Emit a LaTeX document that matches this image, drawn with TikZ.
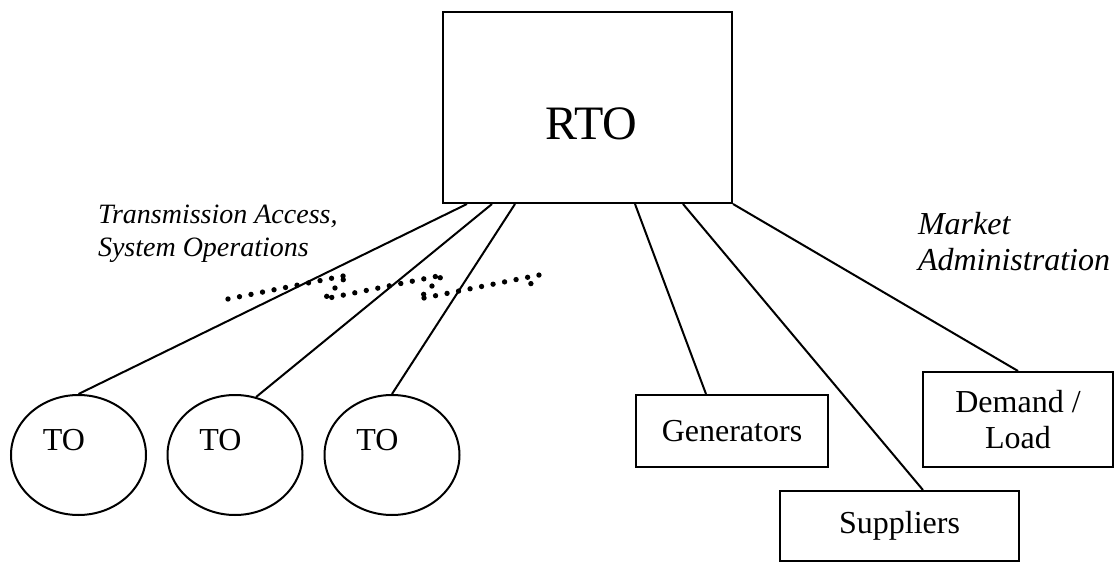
\documentclass[tikz,border=0pt]{standalone}
\usepackage{fontspec}
\setmainfont{Liberation Serif}
\usetikzlibrary{shapes.geometric}

\begin{document}
\begin{tikzpicture}[x=0.75pt,y=-0.75pt,line width=1.5pt,
        box/.style={draw,rectangle,inner sep=0pt,font=\fontsize{24}{27}\selectfont,align=center},
        to/.style={draw,ellipse,inner sep=0pt,minimum width=101.25pt,minimum height=90pt},
        txt/.style={font=\fontsize{24}{27}\selectfont},
        note/.style={anchor=north west,inner sep=0pt,align=left},
        dots/.style={line width=4pt,line cap=round,dash pattern=on 0pt off 8.8pt}]
            \useasboundingbox (0,0) rectangle (1114,563);
            \node[box,minimum width=216.75pt,minimum height=143.25pt,
                label={[font=\fontsize{36}{40}\selectfont,xshift=3pt,yshift=-12pt]center:RTO}] (RTO) at (587.5,107.5) {};
            \node[to,label={[txt,xshift=-10.9pt,yshift=11.25pt]center:TO}] (TO1) at (78.5,455) {};
            \node[to,label={[txt,xshift=-10.9pt,yshift=11.25pt]center:TO}] (TO2) at (235,455) {};
            \node[to,label={[txt,xshift=-10.9pt,yshift=11.25pt]center:TO}] (TO3) at (392,455) {};
            \node[box,minimum width=144pt,minimum height=54pt] (G) at (732,431) {Generators};
            \node[box,minimum width=179.25pt,minimum height=52.5pt] (S) at (899.5,526) {Suppliers};
            \node[box,minimum width=142.5pt,minimum height=71.25pt] (D) at (1018,419.5) {Demand /\\Load};
            \node[note,font=\fontsize{21}{24.75}\selectfont\itshape] (T) at (97,204) {Transmission Access,\\System Operations};
            \node[note,font=\fontsize{24}{27}\selectfont\itshape] (M) at (917,211) {Market\\Administration};
            \draw ([xshift=18.75pt]RTO.south west) -- (TO1.north);
            \draw ([xshift=37.5pt]RTO.south west) -- (TO2.70);
            \draw ([xshift=54.75pt]RTO.south west) -- (TO3.north);
            \draw ([xshift=144.75pt]RTO.south west) -- ([xshift=53.25pt]G.north west);
            \draw ([xshift=180.75pt]RTO.south west) -- ([xshift=17.6pt]S.north);
            \draw (RTO.south east) -- (D.north);
            \draw[dots] (228,299) -- (348,275) -- (324,299) -- (443,275) -- (419,299) -- (539,275) -- (523,292);
        \end{tikzpicture}
\end{document}
